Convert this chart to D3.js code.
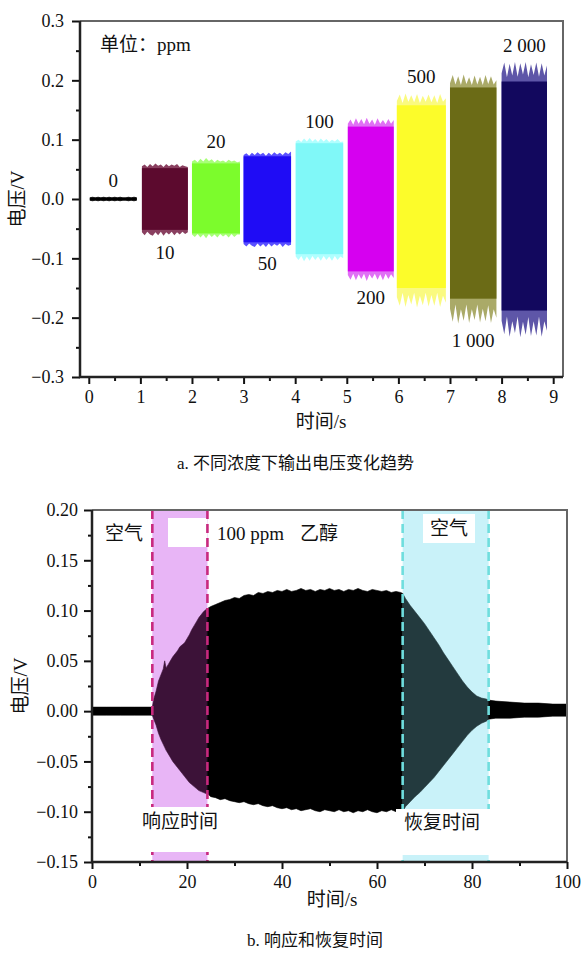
<!DOCTYPE html>
<html><head><meta charset="utf-8">
<script src="https://cdn.jsdelivr.net/npm/d3@7"></script>
<style>body{margin:0;background:#fff}svg{display:block} svg text{font-family:'Liberation Serif','Noto Sans CJK SC',serif !important;}</style>
</head><body>
<script>
// ================= DATA: panel a =================
const concLabels = ["0","10","20","50","100","200","500","1 000","2 000"];
const segStart = [0.02,1.03,2.0,3.0,4.01,5.02,5.97,7.0,8.0];
const segEnd   = [0.93,1.92,2.93,3.92,4.93,5.91,6.92,7.9,8.88];
const segBodyTop = [0.002,0.052,0.060,0.072,0.094,0.122,0.158,0.188,0.198];
const segBodyBot = [-0.002,-0.052,-0.058,-0.073,-0.093,-0.122,-0.150,-0.168,-0.188];
const segTopEnv = [
  [0.003,0.004,0.003,0.004,0.003,0.004,0.003,0.004,0.003,0.004,0.003,0.004,0.003,0.003,0.004,0.003,0.004,0.003],
  [0.055,0.058,0.054,0.059,0.055,0.060,0.056,0.058,0.054,0.059,0.055,0.058,0.056,0.059,0.054,0.057,0.055,0.054],
  [0.063,0.066,0.062,0.068,0.063,0.069,0.064,0.067,0.062,0.066,0.063,0.065,0.062,0.066,0.063,0.065,0.062,0.063],
  [0.074,0.077,0.073,0.078,0.074,0.079,0.075,0.078,0.073,0.078,0.074,0.079,0.075,0.078,0.074,0.079,0.076,0.080],
  [0.097,0.100,0.096,0.102,0.097,0.103,0.097,0.101,0.096,0.102,0.097,0.101,0.096,0.100,0.097,0.101,0.096,0.097],
  [0.127,0.134,0.125,0.136,0.127,0.135,0.126,0.137,0.127,0.134,0.125,0.136,0.127,0.133,0.126,0.135,0.127,0.133],
  [0.165,0.176,0.162,0.178,0.164,0.175,0.163,0.177,0.162,0.174,0.164,0.176,0.163,0.175,0.162,0.177,0.164,0.170],
  [0.195,0.209,0.193,0.207,0.192,0.210,0.194,0.205,0.192,0.208,0.193,0.206,0.192,0.209,0.194,0.207,0.193,0.200],
  [0.212,0.230,0.205,0.228,0.208,0.231,0.206,0.229,0.210,0.231,0.205,0.227,0.209,0.230,0.206,0.229,0.208,0.225]
];
const segBotEnv = [
  [-0.003,-0.004,-0.003,-0.004,-0.003,-0.004,-0.003,-0.004,-0.003,-0.004,-0.003,-0.004,-0.003,-0.003,-0.004,-0.003,-0.004,-0.003],
  [-0.056,-0.061,-0.055,-0.060,-0.062,-0.056,-0.061,-0.055,-0.062,-0.056,-0.060,-0.055,-0.061,-0.056,-0.060,-0.055,-0.059,-0.056],
  [-0.060,-0.064,-0.059,-0.065,-0.060,-0.066,-0.059,-0.064,-0.060,-0.065,-0.059,-0.063,-0.060,-0.065,-0.059,-0.064,-0.060,-0.060],
  [-0.076,-0.080,-0.075,-0.079,-0.081,-0.075,-0.080,-0.076,-0.081,-0.075,-0.080,-0.076,-0.079,-0.075,-0.081,-0.076,-0.079,-0.077],
  [-0.097,-0.103,-0.096,-0.105,-0.097,-0.104,-0.096,-0.103,-0.097,-0.104,-0.096,-0.103,-0.097,-0.104,-0.096,-0.103,-0.097,-0.100],
  [-0.128,-0.136,-0.126,-0.137,-0.127,-0.135,-0.126,-0.138,-0.127,-0.134,-0.126,-0.136,-0.127,-0.137,-0.126,-0.135,-0.127,-0.133],
  [-0.165,-0.180,-0.158,-0.182,-0.162,-0.178,-0.158,-0.183,-0.163,-0.179,-0.158,-0.181,-0.162,-0.180,-0.158,-0.182,-0.163,-0.175],
  [-0.185,-0.207,-0.178,-0.210,-0.186,-0.205,-0.178,-0.209,-0.186,-0.204,-0.178,-0.208,-0.185,-0.206,-0.179,-0.209,-0.186,-0.200],
  [-0.205,-0.228,-0.198,-0.232,-0.206,-0.226,-0.198,-0.233,-0.207,-0.229,-0.199,-0.231,-0.206,-0.230,-0.198,-0.232,-0.206,-0.222]
];
const xTicksA = [0,1,2,3,4,5,6,7,8,9];
const yTicksA = [-0.3,-0.2,-0.1,0.0,0.1,0.2,0.3];

// ================= DATA: panel b =================
// [time s, upper envelope V, lower envelope V]
const basePts = [[0,0.004,-0.004],[3,0.004,-0.004],[6,0.004,-0.004],[9,0.004,-0.004],[12.7,0.004,-0.004]];
const respPts = [[12.7,0.004,-0.004],[13,0.012,-0.008],[13.5,0.020,-0.014],[14,0.030,-0.022],[14.5,0.036,-0.028],
  [15,0.042,-0.033],[15.3,0.050,-0.036],[15.6,0.043,-0.039],[16,0.046,-0.042],[16.5,0.050,-0.046],[17,0.054,-0.050],
  [17.5,0.057,-0.053],[18,0.060,-0.056],[18.5,0.064,-0.059],[19,0.066,-0.062],[19.5,0.068,-0.065],[20,0.072,-0.068],
  [20.5,0.076,-0.071],[21,0.081,-0.073],[21.5,0.085,-0.075],[22,0.089,-0.077],[22.5,0.093,-0.079],[23,0.096,-0.080],
  [23.5,0.099,-0.081],[24,0.101,-0.082],[24.3,0.102,-0.082]];
const satPts = [[24.3,0.102,-0.082],[25,0.104,-0.085],[26,0.106,-0.086],[27,0.108,-0.088],[28,0.110,-0.087],
  [29,0.111,-0.089],[30,0.113,-0.090],[31,0.112,-0.091],[32,0.115,-0.090],[33,0.116,-0.092],[34,0.115,-0.093],
  [35,0.118,-0.092],[36,0.117,-0.094],[37,0.119,-0.095],[38,0.118,-0.094],[39,0.120,-0.096],[40,0.119,-0.097],
  [41,0.121,-0.096],[42,0.119,-0.098],[43,0.120,-0.097],[44,0.122,-0.099],[45,0.120,-0.098],[46,0.121,-0.097],
  [47,0.119,-0.099],[48,0.121,-0.100],[49,0.120,-0.098],[50,0.122,-0.099],[51,0.120,-0.100],[52,0.121,-0.098],
  [53,0.119,-0.100],[54,0.121,-0.099],[55,0.120,-0.101],[56,0.122,-0.099],[57,0.120,-0.100],[58,0.119,-0.098],
  [59,0.121,-0.100],[60,0.120,-0.101],[61,0.119,-0.099],[62,0.120,-0.100],[63,0.118,-0.098],[64,0.119,-0.100],
  [65,0.118,-0.099],[65.4,0.117,-0.100]];
const recPts = [[65.4,0.117,-0.100],[66,0.112,-0.095],[67,0.105,-0.090],[68,0.099,-0.085],[69,0.093,-0.081],
  [70,0.087,-0.076],[71,0.080,-0.071],[72,0.073,-0.066],[73,0.066,-0.060],[74,0.058,-0.054],[75,0.051,-0.048],
  [76,0.044,-0.042],[77,0.037,-0.036],[78,0.030,-0.030],[79,0.024,-0.024],[80,0.019,-0.019],[81,0.015,-0.015],
  [82,0.013,-0.012],[83,0.012,-0.010],[83.5,0.011,-0.008]];
const tailPts = [[83.5,0.011,-0.008],[85,0.010,-0.007],[88,0.009,-0.007],[91,0.008,-0.006],[94,0.008,-0.006],
  [97,0.007,-0.005],[100,0.007,-0.005]];
const phaseBounds = [12.7, 24.3, 65.4, 83.5];
const xTicksB = [0,20,40,60,80,100];
const yTicksB = [-0.15,-0.10,-0.05,0.00,0.05,0.10,0.15,0.20];

// ================= STYLE =================
const segColors  = ["#000000","#5c0a2e","#7cfc2c","#1f0cf5","#80f8f8","#d600f0","#fcfc2a","#6b6b16","#12085e"];
const segFringe  = ["#222222","#8a4060","#a8ff78","#5a50ff","#b0ffff","#e070f5","#fafa80","#aaaa68","#5e56a8"];
const SERIF = "'Liberation Serif','Noto Sans CJK SC',serif";

const svg = d3.select("body").append("svg").attr("width",585).attr("height",953)
  .attr("font-family", SERIF);

function styleAxis(g){
  g.attr("font-family", SERIF).attr("font-size", 18);
  g.select(".domain").remove();
  g.selectAll(".tick line").attr("stroke","#111").attr("stroke-width",2);
  g.selectAll(".tick text").attr("fill","#111").attr("font-family",SERIF).attr("font-size",18);
}
function label(g, s, xx, yy, size, anchor){
  return g.append("text").attr("x",xx).attr("y",yy).attr("text-anchor",anchor||"middle")
    .attr("font-family",SERIF).attr("font-size",size).attr("fill","#111").text(s);
}

// ================= PANEL A =================
{
  const L=80,R=563,T=21,B=377;
  const x = d3.scaleLinear().domain([-0.17,9.19]).range([L,R]);
  const y = d3.scaleLinear().domain([-0.3,0.3]).range([B,T]);
  const g = svg.append("g");

  concLabels.forEach((lab,i)=>{
    const t0=segStart[i], t1=segEnd[i];
    const n=segTopEnv[i].length;
    const pts = segTopEnv[i].map((v,k)=>[t0+(t1-t0)*k/(n-1), v, segBotEnv[i][k]]);
    g.append("path").datum(pts)
      .attr("d", d3.area().x(d=>x(d[0])).y1(d=>y(d[1])).y0(d=>y(d[2])))
      .attr("fill", segFringe[i]);
    g.append("rect").attr("x",x(t0)).attr("width",x(t1)-x(t0))
      .attr("y",y(segBodyTop[i])).attr("height",y(segBodyBot[i])-y(segBodyTop[i]))
      .attr("fill",segColors[i]);
    const above = i%2===0;
    const cx = x((t0+t1)/2);
    const yy = above ? y(d3.max(segTopEnv[i]))-10 : y(d3.min(segBotEnv[i]))+23;
    label(g, lab, cx, yy, 19);
  });

  label(g, "单位：ppm", 100, 51, 19, "start");

  g.append("path").attr("d",`M${L},${T}H${R}V${B}`).attr("fill","none").attr("stroke","#666").attr("stroke-width",2);
  g.append("g").attr("transform",`translate(0,${B})`)
    .call(d3.axisBottom(x).tickValues(xTicksA).tickSize(7).tickPadding(6).tickFormat(d3.format("d"))).call(styleAxis);
  g.append("g").attr("transform",`translate(0,${B})`)
    .call(d3.axisBottom(x).tickValues(d3.range(0.5,9,1)).tickSize(4).tickFormat("")).call(styleAxis);
  g.append("g").attr("transform",`translate(${L},0)`)
    .call(d3.axisLeft(y).tickValues(yTicksA).tickSize(8).tickPadding(8).tickFormat(d3.format(".1f"))).call(styleAxis);
  g.append("g").attr("transform",`translate(${L},0)`)
    .call(d3.axisLeft(y).tickValues(d3.range(-0.25,0.3,0.1)).tickSize(4).tickFormat("")).call(styleAxis);
  g.append("path").attr("d",`M${L},${T}V${B}H${R}`).attr("fill","none").attr("stroke","#222").attr("stroke-width",2.5);

  label(g, "时间/s", 321, 428, 19);
  label(g, "电压/V", 0, 0, 19).attr("transform","translate(24,199) rotate(-90)");
  label(g, "a.  不同浓度下输出电压变化趋势", 177, 469, 17, "start");
}

// ================= PANEL B =================
{
  const L=92,R=567,T=510,B=862;
  const x = d3.scaleLinear().domain([0,100]).range([L,R]);
  const y = d3.scaleLinear().domain([-0.15,0.20]).range([B,T]);
  const g = svg.append("g");
  const [tOn,tSat,tOff,tRec] = phaseBounds;

  g.append("rect").attr("x",x(tOn)).attr("width",x(tSat)-x(tOn)).attr("y",T).attr("height",B-T).attr("fill","#e8b5f6");
  g.append("rect").attr("x",x(tOff)).attr("width",x(tRec)-x(tOff)).attr("y",T).attr("height",B-T).attr("fill","#c9f2f9");

  const area = d3.area().x(d=>x(d[0])).y1(d=>y(d[1])).y0(d=>y(d[2]));
  [[basePts,"#000"],[respPts,"#3c1238"],[satPts,"#000"],[recPts,"#233a3e"],[tailPts,"#000"]].forEach(([p,c])=>{
    g.append("path").datum(p).attr("d",area).attr("fill",c).attr("stroke",c).attr("stroke-width",0.6);
  });

  g.append("rect").attr("x",168).attr("y",518).attr("width",39).attr("height",29).attr("fill","#fff");
  g.append("rect").attr("x",423).attr("y",514).attr("width",52).attr("height",29).attr("fill","#fff");

  [[tOn,"#c8297f"],[tSat,"#c8297f"],[tOff,"#6fdede"],[tRec,"#6fdede"]].forEach(([t,c])=>{
    g.append("line").attr("x1",x(t)).attr("x2",x(t)).attr("y1",T).attr("y2",B)
      .attr("stroke",c).attr("stroke-width",2.6).attr("stroke-dasharray","9,5");
  });

  g.append("rect").attr("x",130).attr("y",807).attr("width",101).attr("height",45).attr("fill","#fff");
  g.append("rect").attr("x",396).attr("y",809).attr("width",94).attr("height",46).attr("fill","#fff");

  label(g,"空气",124,540,19);
  label(g,"100 ppm",217,540,19,"start");
  label(g,"乙醇",300,540,19,"start");
  label(g,"空气",449,535,19);
  label(g,"响应时间",180,828,19);
  label(g,"恢复时间",442,829,19);

  g.append("path").attr("d",`M${L},${T}H${R}V${B}`).attr("fill","none").attr("stroke","#666").attr("stroke-width",2);
  g.append("g").attr("transform",`translate(0,${B})`)
    .call(d3.axisBottom(x).tickValues(xTicksB).tickSize(7).tickPadding(6).tickFormat(d3.format("d"))).call(styleAxis);
  g.append("g").attr("transform",`translate(0,${B})`)
    .call(d3.axisBottom(x).tickValues([10,30,50,70,90]).tickSize(4).tickFormat("")).call(styleAxis);
  g.append("g").attr("transform",`translate(${L},0)`)
    .call(d3.axisLeft(y).tickValues(yTicksB).tickSize(8).tickPadding(6).tickFormat(d3.format(".2f"))).call(styleAxis);
  g.append("g").attr("transform",`translate(${L},0)`)
    .call(d3.axisLeft(y).tickValues(d3.range(-0.125,0.2,0.05)).tickSize(4).tickFormat("")).call(styleAxis);
  g.append("path").attr("d",`M${L},${T}V${B}H${R}`).attr("fill","none").attr("stroke","#222").attr("stroke-width",2.5);

  label(g,"时间/s",332,906,19);
  label(g,"电压/V",0,0,19).attr("transform","translate(27,686) rotate(-90)");
  label(g,"b.  响应和恢复时间",247,946,17,"start");
}
</script>
</body></html>
